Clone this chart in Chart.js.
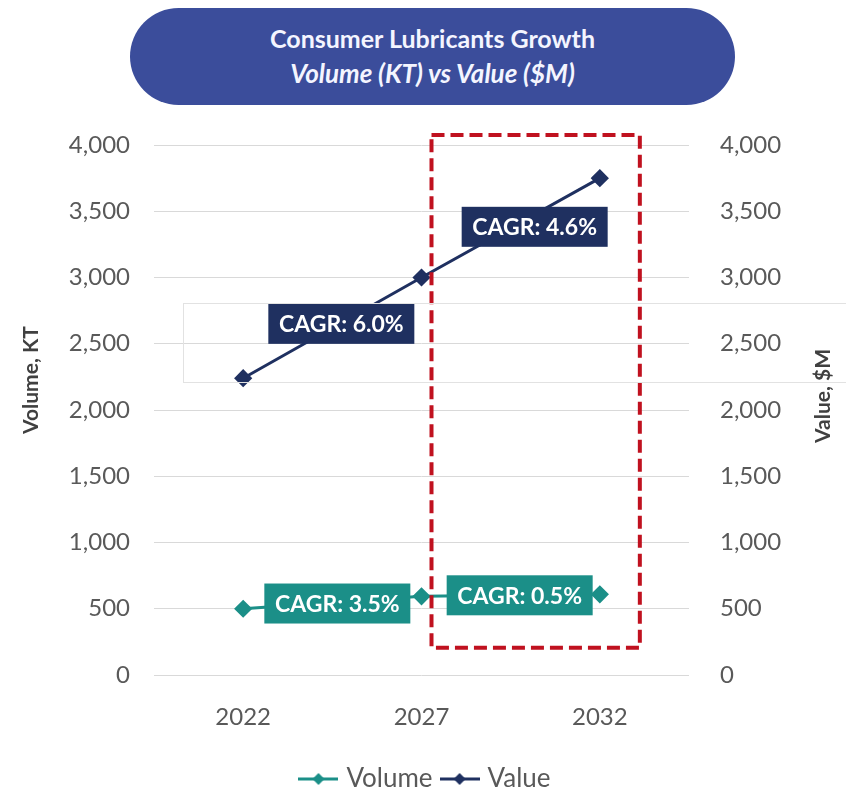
<!DOCTYPE html>
<html>
<head>
<meta charset="utf-8">
<script src="https://cdn.jsdelivr.net/npm/chart.js@4.4.1/dist/chart.umd.min.js"></script>
<style>
  html, body { margin: 0; padding: 0; background: #fff; }
  #wrap { position: relative; width: 846px; height: 793px; overflow: hidden; }
  #banner {
    position: absolute; left: 130px; top: 8px; width: 605px; height: 97px;
    border-radius: 49px; background: #3b4d9b; color: #f4f5ff;
    font-family: Lato, "Open Sans", sans-serif; font-weight: bold; font-size: 25px;
    line-height: 35px; text-align: center; box-sizing: border-box; padding-top: 13px;
  }
  #banner i { font-style: italic; font-size: 26px; }
</style>
</head>
<body>
<div id="wrap">
  <canvas id="chart" width="846" height="793"></canvas>
  <div id="banner">Consumer Lubricants Growth<br><i>Volume (KT) vs Value ($M)</i></div>
</div>
<script>
const years = ['2022', '2027', '2032'];
const volume = [500, 594, 609];
const value = [2240, 3000, 3750];
const volumeCagr = ['CAGR: 3.5%', 'CAGR: 0.5%'];
const valueCagr = ['CAGR: 6.0%', 'CAGR: 4.6%'];
const axisMin = 0;
const axisMax = 4000;
const axisStep = 500;

const TEAL = '#1b8f88';
const NAVY = '#1f3060';
const RED = '#c0111f';
const FONT = 'Lato, "Open Sans", sans-serif';

// legend icon: short line with a diamond in the middle
function legendIcon(color) {
    const c = document.createElement('canvas');
    c.width = 40; c.height = 14;
    const g = c.getContext('2d');
    g.strokeStyle = color; g.lineWidth = 3;
    g.beginPath(); g.moveTo(0, 7); g.lineTo(40, 7); g.stroke();
    g.fillStyle = color;
    g.beginPath(); g.moveTo(20, 1); g.lineTo(26, 7); g.lineTo(20, 13); g.lineTo(14, 7); g.closePath(); g.fill();
    return c;
}

const extras = {
    id: 'extras',
    afterDatasetsDraw(chart) {
        const { ctx, chartArea, scales } = chart;
        const x = scales.x, yl = scales.yLeft;

        // red dashed highlight around the 2027-2032 period
        const bx0 = x.getPixelForValue(1) + 10;
        const bx1 = x.getPixelForValue(2) + 40;
        const by0 = yl.getPixelForValue(4075);
        const by1 = yl.getPixelForValue(205);
        ctx.save();
        ctx.strokeStyle = RED; ctx.lineWidth = 4; ctx.setLineDash([13, 6]);
        ctx.strokeRect(bx0, by0, bx1 - bx0, by1 - by0);
        ctx.restore();

        // CAGR boxes at segment midpoints
        const drawLabels = (dsIndex, texts, color, offsets) => {
            const pts = chart.getDatasetMeta(dsIndex).data;
            texts.forEach((t, i) => {
                const cx = (pts[i].x + pts[i + 1].x) / 2 + offsets[i][0];
                const cy = (pts[i].y + pts[i + 1].y) / 2 + offsets[i][1];
                const w = 146, h = 40;
                ctx.save();
                ctx.fillStyle = color;
                ctx.fillRect(cx - w / 2, cy - h / 2, w, h);
                ctx.fillStyle = '#fff';
                ctx.font = 'bold 23px ' + FONT;
                ctx.textAlign = 'center'; ctx.textBaseline = 'middle';
                ctx.fillText(t, cx, cy + 1);
                ctx.restore();
            });
        };
        drawLabels(1, valueCagr, NAVY, [[9, -4], [24, -1]]);
        drawLabels(0, volumeCagr, TEAL, [[5, 1], [9, 0]]);

        // axis titles, both reading bottom to top
        const midY = (chartArea.top + chartArea.bottom) / 2;
        ctx.save();
        ctx.fillStyle = '#404040';
        ctx.font = 'bold 21px ' + FONT;
        ctx.textAlign = 'center'; ctx.textBaseline = 'middle';
        ctx.translate(31, midY - 30); ctx.rotate(-Math.PI / 2);
        ctx.fillText('Volume, KT', 0, 0);
        ctx.restore();
        ctx.save();
        ctx.fillStyle = '#404040';
        ctx.font = 'bold 21px ' + FONT;
        ctx.textAlign = 'center'; ctx.textBaseline = 'middle';
        ctx.translate(823, midY - 14); ctx.rotate(-Math.PI / 2);
        ctx.fillText('Value, $M', 0, 0);
        ctx.restore();

        // faint frame left over in the source picture
        ctx.save();
        ctx.strokeStyle = '#e2e2e2'; ctx.lineWidth = 1;
        ctx.strokeRect(183.5, 303.5, 680, 79);
        ctx.restore();
    }
};

new Chart(document.getElementById('chart'), {
    type: 'line',
    data: {
        labels: years,
        datasets: [
            {
                label: 'Volume',
                data: volume,
                yAxisID: 'yLeft',
                borderColor: TEAL,
                backgroundColor: TEAL,
                borderWidth: 3,
                pointStyle: 'rectRot',
                pointRadius: 7,
                pointBackgroundColor: TEAL,
                tension: 0,
            },
            {
                label: 'Value',
                data: value,
                yAxisID: 'yRight',
                borderColor: NAVY,
                backgroundColor: NAVY,
                borderWidth: 3,
                pointStyle: 'rectRot',
                pointRadius: 7,
                pointBackgroundColor: NAVY,
                tension: 0,
            },
        ],
    },
    options: {
        responsive: false,
        animation: false,
        layout: { padding: { top: 145, left: 18, right: 10, bottom: -9 } },
        plugins: {
            title: { display: false },
            tooltip: { enabled: false },
            legend: {
                position: 'bottom',
                labels: {
                    usePointStyle: true,
                    pointStyleWidth: 30,
                    padding: 12,
                    color: '#595959',
                    font: { family: FONT, size: 26 },
                    generateLabels(chart) {
                        const items = Chart.defaults.plugins.legend.labels.generateLabels(chart);
                        items.forEach(it => { it.pointStyle = legendIcon(chart.data.datasets[it.datasetIndex].borderColor); });
                        return items;
                    },
                },
            },
        },
        scales: {
            x: {
                offset: true,
                grid: { display: false },
                border: { display: false },
                ticks: { color: '#595959', font: { family: FONT, size: 24 }, padding: 20 },
                afterFit(scale) { scale.height = 79; },
            },
            yLeft: {
                position: 'left',
                min: axisMin, max: axisMax,
                grid: { color: '#d9d9d9', drawTicks: false },
                border: { display: false },
                ticks: {
                    stepSize: axisStep, padding: 24, color: '#595959',
                    font: { family: FONT, size: 24 },
                    callback: v => v.toLocaleString('en-US'),
                },
                afterFit(scale) { scale.width = 136; },
            },
            yRight: {
                position: 'right',
                min: axisMin, max: axisMax,
                grid: { display: false, drawTicks: false },
                border: { display: false },
                ticks: {
                    stepSize: axisStep, padding: 31, color: '#595959',
                    font: { family: FONT, size: 24 },
                    callback: v => v.toLocaleString('en-US'),
                },
                afterFit(scale) { scale.width = 147; },
            },
        },
    },
    plugins: [extras],
});
</script>
</body>
</html>
